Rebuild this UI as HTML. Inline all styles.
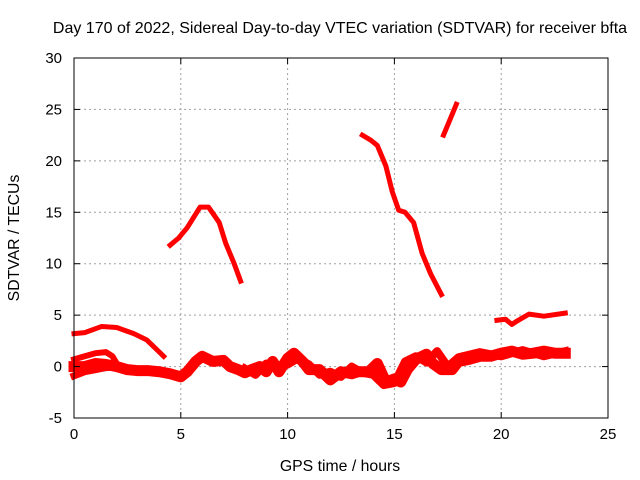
<!DOCTYPE html>
<html><head><meta charset="utf-8"><style>
body{margin:0;background:#fff;}
svg{display:block;font-family:"Liberation Sans",sans-serif;}
</style></head><body>
<svg id="chart" width="640" height="480">
<text x="340" y="33" font-size="16" text-anchor="middle">Day 170 of 2022, Sidereal Day-to-day VTEC variation (SDTVAR) for receiver bfta</text>
<text x="340" y="471" font-size="15.8" text-anchor="middle">GPS time / hours</text>
<text transform="translate(19,238) rotate(-90)" font-size="15.8" text-anchor="middle">SDTVAR / TECUs</text>
<g id="grid"></g><g id="series"></g><g id="axes"></g>
</svg>
<script>
const xTicks=[0,5,10,15,20,25];
const yTicks=[-5,0,5,10,15,20,25,30];
const seriesA=[[0,3.2],[0.5,3.3],[1.3,3.9],[2,3.8],[2.8,3.2],[3.4,2.6],[3.8,1.8],[4.2,1.0]];
const seriesB=[[4.5,11.8],[4.9,12.5],[5.3,13.5],[5.9,15.5],[6.3,15.5],[6.8,14],[7.1,12],[7.5,10],[7.8,8.3]];
const seriesC=[[13.5,22.5],[13.9,22],[14.2,21.5],[14.6,19.5],[14.9,17],[15.2,15.2],[15.5,15],[15.9,14],[16.3,11],[16.7,9],[17.2,7]];
const seriesD=[[17.3,22.5],[17.6,24],[17.9,25.5]];
const seriesE=[[19.8,4.5],[20.2,4.6],[20.5,4.1],[20.8,4.5],[21.3,5.1],[22,4.9],[23,5.2]];
const seriesF=[[0,0],[0.5,0],[1,0.3],[1.5,0.2],[2,0],[2.5,-0.3],[3,-0.4],[3.5,-0.4],[4,-0.5],[4.5,-0.7],[5,-1.0],[5.3,-0.5],[5.7,0.5],[6,1.0],[6.5,0.5],[7,0.6],[7.3,0],[7.7,-0.3],[8,-0.6],[8.3,-0.3],[8.7,0],[9,-0.5],[9.3,0.5],[9.6,-0.5],[10,0.8],[10.3,1.3],[10.7,0.5],[11,-0.3],[11.5,-0.3],[12,-1.3],[12.5,-0.5],[13,-0.7],[13.3,-0.5],[13.8,-0.5],[14.2,0.3],[14.6,-1.5],[15,-1.2],[15.3,-1.5],[15.6,-0.3],[16,0.7],[16.5,1.2],[16.8,0.3],[17.2,-0.3],[17.7,-0.3],[18,0.5],[18.5,0.7],[19,1.0],[19.5,1.0],[20,1.3],[20.5,1.5],[21,1.2],[21.5,1.3],[22,1.5],[22.5,1.3],[23,1.3]];
const seriesG=[[0,0.7],[0.5,1.0],[1,1.3],[1.5,1.4],[1.8,1.0],[2,0.3]];
const seriesH=[[0,-0.9],[0.5,-0.5],[1,-0.3],[1.5,-0.1],[2,0]];
const seriesI=[[8,-0.2],[8.5,-0.8],[9,0.3],[9.5,0],[10,0.2],[10.5,0.8],[11,0.2],[11.5,-0.8],[12,-0.5],[12.5,-1],[13,0],[13.5,-0.6],[14,-0.8],[14.5,-1.8],[15,-1.6],[15.5,0.5],[16,1.0],[16.5,0.4],[17,1.5],[17.5,0],[18,0.9],[19,1.4],[20,1.0],[21,1.6],[22,1.0],[23,1.5]];
const X0=74,X1=608,Y0=418,Y1=58;
const xs=v=>X0+(v-0)/(25-0)*(X1-X0);
const ys=v=>Y0-(v+5)/35*(Y0-Y1);
const NS="http://www.w3.org/2000/svg";
const grid=document.getElementById('grid'),axes=document.getElementById('axes'),ser=document.getElementById('series');
function mk(tag,a,p){const e=document.createElementNS(NS,tag);for(const k in a)e.setAttribute(k,a[k]);p.appendChild(e);return e;}
xTicks.forEach(t=>{
 if(t>0&&t<25){const g=mk('line',{x1:xs(t),x2:xs(t),y1:Y1,y2:Y0,stroke:'#a0a0a0','stroke-dasharray':'2,3'},grid);
 
 }
 const l=mk('text',{x:xs(t),y:Y0+21,'font-size':15,'text-anchor':'middle'},axes);l.textContent=t;
 
 
 mk('line',{x1:xs(t),x2:xs(t),y1:Y0,y2:Y0-6,stroke:'#000'},axes);mk('line',{x1:xs(t),x2:xs(t),y1:Y1,y2:Y1+6,stroke:'#000'},axes);
});
yTicks.forEach(t=>{
 if(t>-5&&t<30){const g=mk('line',{x1:X0,x2:X1,y1:ys(t),y2:ys(t),stroke:'#a0a0a0','stroke-dasharray':'2,3'},grid);
 
 }
 const l=mk('text',{x:X0-12,y:ys(t)+5,'font-size':15,'text-anchor':'end'},axes);l.textContent=t;
 
 
 mk('line',{x1:X0,x2:X0+6,y1:ys(t),y2:ys(t),stroke:'#000'},axes);mk('line',{x1:X1,x2:X1-6,y1:ys(t),y2:ys(t),stroke:'#000'},axes);
});
const fr=mk('rect',{x:X0,y:Y1,width:X1-X0,height:Y0-Y1,fill:'none',stroke:'#000'},axes);


function draw(d,w,name){
 const p=mk('polyline',{points:d.map(q=>xs(q[0])+','+ys(q[1])).join(' '),fill:'none',stroke:'#ff0000','stroke-width':w,'stroke-linejoin':'round','stroke-linecap':'square'},ser);
 
 
}
draw(seriesA,5,'series-a');draw(seriesB,5,'series-b');draw(seriesC,5,'series-c');draw(seriesD,5,'series-d');draw(seriesE,5,'series-e');
draw(seriesF,11,'series-f');draw(seriesG,6,'series-g');draw(seriesH,7,'series-h');draw(seriesI,8,'series-i');
</script>
</body></html>
